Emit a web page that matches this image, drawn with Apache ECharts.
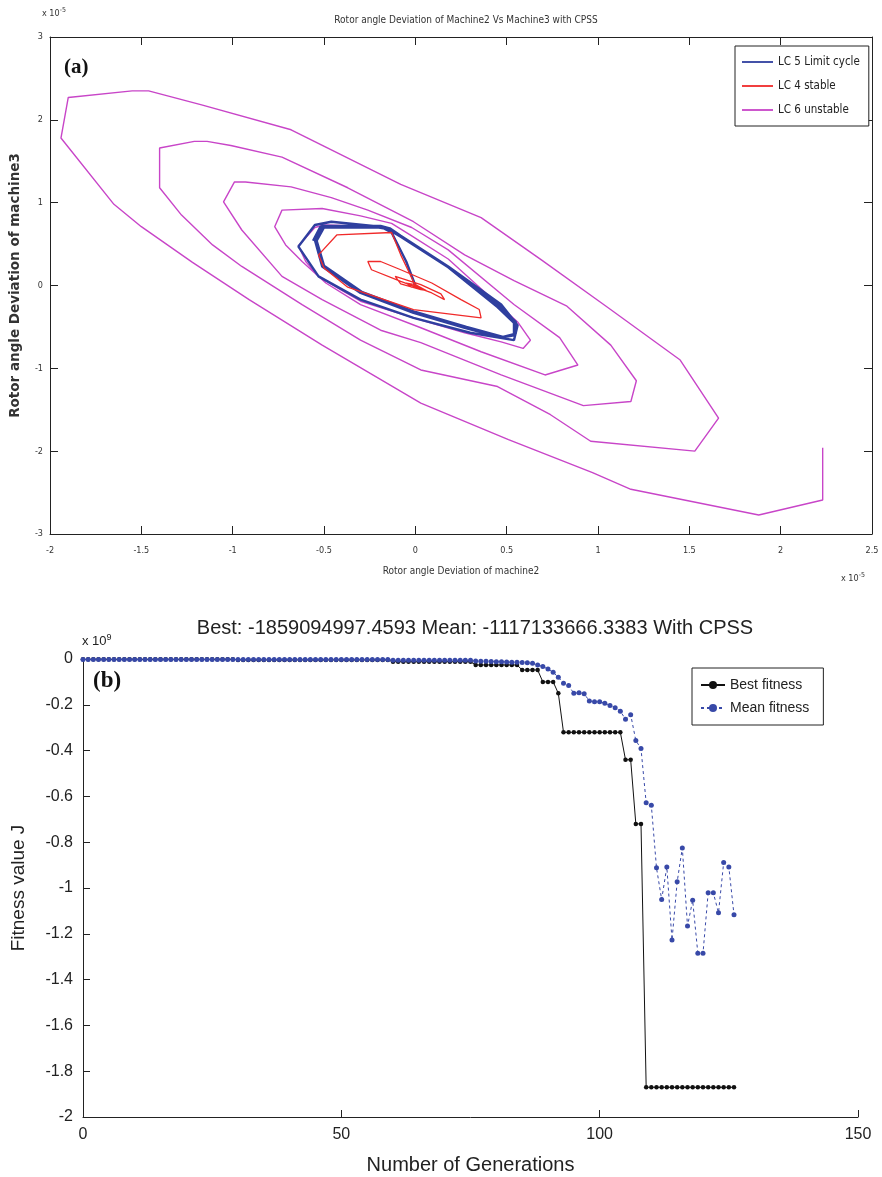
<!DOCTYPE html>
<html><head><meta charset="utf-8">
<script src="https://cdn.jsdelivr.net/npm/echarts@6/dist/echarts.min.js"></script>
<style>html,body{margin:0;padding:0;background:#fff}#c{width:882px;height:1177px}</style>
</head><body><div id="c"></div>
<script>
// ---------- Panel (a): phase-plane trajectories (units of 1e-5) ----------
const lc6Unstable = [
 [0,0],[-0.05,0.29],[-0.13,0.64],[-0.19,0.71],[-0.50,0.73],[-0.55,0.70],[-0.64,0.48],[-0.60,0.29],[-0.53,0.11],
 [-0.41,-0.05],[-0.30,-0.19],[-0.01,-0.39],[0.27,-0.57],[0.47,-0.68],[0.59,-0.76],[0.63,-0.66],
 [0.56,-0.44],[0.39,-0.10],[0.18,0.32],[-0.02,0.60],[-0.13,0.75],[-0.30,0.84],[-0.51,0.93],[-0.73,0.91],[-0.77,0.71],
 [-0.71,0.49],[-0.62,0.29],[-0.49,0.03],[-0.30,-0.23],[0.03,-0.51],[0.36,-0.80],[0.71,-1.08],[0.89,-0.96],
 [0.79,-0.63],[0.54,-0.23],[0.18,0.43],[-0.02,0.70],[-0.26,0.91],[-0.46,1.06],[-0.68,1.19],[-0.93,1.25],[-0.99,1.25],[-1.05,1.01],
 [-0.95,0.67],[-0.73,0.11],[-0.51,-0.17],[-0.19,-0.54],[0.03,-0.69],[0.47,-1.08],[0.92,-1.45],[1.18,-1.40],[1.21,-1.15],
 [1.07,-0.72],[0.83,-0.25],[0.54,0.06],[0.27,0.37],[-0.01,0.77],[-0.37,1.18],[-0.73,1.55],[-1.01,1.69],[-1.14,1.74],[-1.21,1.74],[-1.40,1.66],[-1.40,1.18],
 [-1.28,0.85],[-1.11,0.49],[-0.95,0.23],[-0.62,-0.23],[-0.30,-0.66],[0.03,-1.02],[0.45,-1.22],[0.74,-1.56],[0.96,-1.88],[1.53,-2.00],[1.66,-1.60],
 [1.45,-0.90],[1.05,-0.26],[0.69,0.31],[0.36,0.82],[-0.08,1.22],[-0.68,1.88],[-1.17,2.18],[-1.46,2.35],[-1.55,2.35],[-1.90,2.27],[-1.94,1.78],
 [-1.65,0.98],[-1.50,0.71],[-1.22,0.28],[-0.91,-0.17],[-0.51,-0.72],[0.03,-1.42],[0.51,-1.86],[0.97,-2.26],[1.18,-2.46],[1.88,-2.77],[2.23,-2.59],[2.23,-1.96]
];
const lc5LimitCycle = [
 [0,0],[-0.05,0.29],[-0.13,0.64],[-0.19,0.71],[-0.46,0.77],[-0.55,0.73],[-0.64,0.47],[-0.53,0.11],[-0.30,-0.17],
 [-0.01,-0.39],[0.30,-0.57],[0.54,-0.66],[0.56,-0.48],[0.47,-0.23],[0.18,0.23],[-0.08,0.60],[-0.14,0.69],
 [-0.19,0.72],[-0.51,0.72],[-0.55,0.55],[-0.51,0.23],[-0.30,-0.09],[-0.01,-0.33],[0.27,-0.51],[0.47,-0.63],
 [0.54,-0.60],[0.54,-0.45],[0.45,-0.26],[0.18,0.22],[-0.08,0.59],[-0.15,0.68],[-0.20,0.70],[-0.50,0.70],
 [-0.54,0.54],[-0.50,0.24],[-0.29,-0.08],[0.00,-0.32],[0.28,-0.50],[0.48,-0.62],[0.55,-0.58],[0.55,-0.44],
 [0.46,-0.25],[0.19,0.21],[-0.07,0.58],[-0.14,0.69],[-0.19,0.71],[-0.52,0.71],[-0.56,0.54]
];
const lc4Stable = [
 [0,0],[-0.08,0.37],[-0.13,0.64],[-0.43,0.61],[-0.53,0.37],[-0.50,0.21],[-0.37,-0.02],[-0.01,-0.29],[0.36,-0.39],
 [0.35,-0.29],[0.25,-0.17],[0.09,0.03],[-0.08,0.19],[-0.19,0.29],[-0.26,0.29],[-0.24,0.19],[-0.08,0.05],
 [0.09,-0.09],[0.16,-0.17],[0.14,-0.10],[0.03,0.01],[-0.08,0.09],[-0.11,0.11],[-0.08,0.02],[0.03,-0.05],
 [0.06,-0.06],[0.00,0.01],[-0.05,0.03],[-0.02,-0.02],[0.02,-0.03],[-0.01,0.01],[0,0]
];
const topXTicks = {min:-2, max:2.5, step:0.5};
const topYTicks = {min:-3, max:3, step:1};

// ---------- Panel (b): GA fitness (units of 1e9) ----------
const firstGeneration = 0;
const bestFitness = [
 -0.001,-0.001,-0.001,-0.001,-0.001,-0.001,-0.001,-0.001,-0.001,-0.001,
 -0.001,-0.001,-0.001,-0.001,-0.001,-0.001,-0.001,-0.001,-0.001,-0.001,
 -0.001,-0.001,-0.001,-0.001,-0.001,-0.001,-0.001,-0.001,-0.001,-0.001,
 -0.004,-0.004,-0.004,-0.004,-0.004,-0.004,-0.004,-0.004,-0.004,-0.004,
 -0.004,-0.004,-0.004,-0.004,-0.004,-0.004,-0.004,-0.004,-0.004,-0.004,
 -0.004,-0.004,-0.004,-0.004,-0.004,-0.004,-0.004,-0.004,-0.004,-0.004,
 -0.012,-0.012,-0.012,-0.012,-0.012,-0.012,-0.012,-0.012,-0.012,-0.012,
 -0.012,-0.012,-0.012,-0.012,-0.012,-0.012,
 -0.026,-0.026,-0.026,-0.026,-0.026,-0.026,-0.026,-0.026,-0.026,
 -0.048,-0.048,-0.048,-0.048,
 -0.100,-0.100,-0.100,
 -0.150,
 -0.320,-0.320,-0.320,-0.320,-0.320,-0.320,-0.320,-0.320,-0.320,-0.320,-0.320,-0.320,
 -0.440,-0.440,
 -0.720,-0.720,
 -1.870,-1.870,-1.870,-1.870,-1.870,-1.870,-1.870,-1.870,-1.870,
 -1.870,-1.870,-1.870,-1.870,-1.870,-1.870,-1.870,-1.870,-1.870
];
const meanFitness = [
 -0.002,-0.002,-0.002,-0.002,-0.002,-0.002,-0.002,-0.002,-0.002,-0.002,
 -0.002,-0.002,-0.002,-0.002,-0.002,-0.002,-0.002,-0.002,-0.002,-0.002,
 -0.002,-0.002,-0.002,-0.002,-0.002,-0.002,-0.002,-0.002,-0.002,-0.002,
 -0.002,-0.002,-0.002,-0.002,-0.002,-0.002,-0.002,-0.002,-0.002,-0.002,
 -0.002,-0.002,-0.002,-0.002,-0.002,-0.002,-0.002,-0.002,-0.002,-0.002,
 -0.002,-0.002,-0.002,-0.002,-0.002,-0.002,-0.002,-0.002,-0.002,-0.002,
 -0.006,-0.006,-0.006,-0.006,-0.006,-0.006,-0.006,-0.006,-0.006,-0.006,
 -0.006,-0.006,-0.006,-0.006,-0.006,-0.006,
 -0.009,-0.010,-0.010,-0.011,-0.012,-0.012,-0.013,-0.014,-0.014,-0.015,
 -0.016,-0.019,-0.026,-0.033,-0.044,-0.058,-0.080,-0.106,-0.116,-0.150,
 -0.147,-0.152,-0.183,-0.187,-0.187,-0.193,-0.203,-0.213,-0.228,-0.263,
 -0.243,-0.356,-0.391,-0.628,-0.639,-0.912,-1.050,-0.908,-1.227,-0.973,
 -0.825,-1.166,-1.054,-1.285,-1.285,-1.021,-1.021,-1.108,-0.889,-0.908,
 -1.117
];
const botXTicks = {min:0, max:150, step:50};
const botYTicks = {min:-2, max:0, step:0.2};
const titleA = 'Rotor angle Deviation of Machine2 Vs Machine3 with CPSS';
const titleB = 'Best: -1859094997.4593 Mean: -1117133666.3383 With CPSS';

const narrow = "'Liberation Sans Narrow','DejaVu Sans Condensed','Liberation Sans',sans-serif";
const sans = "'Liberation Sans',Arial,sans-serif";
const serif = "'Liberation Serif','DejaVu Serif',serif";

const bestPts = bestFitness.map((v,i)=>[firstGeneration+i, v]);
const meanPts = meanFitness.map((v,i)=>[firstGeneration+i, v]);

const axTop = (extra) => Object.assign({
  axisLine:{show:true, onZero:false, lineStyle:{color:'#222', width:1}},
  axisTick:{show:true, inside:true, length:8, lineStyle:{color:'#222'}},
  splitLine:{show:false},
  axisLabel:{fontFamily:narrow, fontSize:9, color:'#333'}
}, extra);

const chart = echarts.init(document.getElementById('c'), null, {renderer:'canvas'});
chart.setOption({
  animation:false,
  backgroundColor:'#fff',
  title:[
    {text:titleA, left:461, top:10, textAlign:'center', textStyle:{fontFamily:narrow, fontSize:10, fontWeight:'normal', color:'#333'}},
    {text:titleB, left:470, top:613, textAlign:'center', textStyle:{fontFamily:sans, fontSize:20, fontWeight:'normal', color:'#222'}}
  ],
  grid:[
    {left:47, right:10, top:37, height:497},
    {left:83, width:775, top:659, height:458}
  ],
  legend:[
    {orient:'vertical', left:735, top:46, data:['LC 5 Limit cycle','LC 4 stable','LC 6 unstable'],
     icon:'path://M0,0 L31,0 L31,1.8 L0,1.8 Z',
     itemWidth:31, itemHeight:10, itemGap:12, padding:[10,9,10,7], borderColor:'#222', borderWidth:1,
     textStyle:{fontFamily:narrow, fontSize:11.5, color:'#222'}, backgroundColor:'#fff'},
    {orient:'vertical', left:692, top:668, data:['Best fitness','Mean fitness'],
     itemWidth:24, itemHeight:10, itemGap:9, padding:[10,14,10,8], borderColor:'#222', borderWidth:1,
     itemStyle:{borderWidth:0},
     textStyle:{fontFamily:sans, fontSize:14, color:'#222'}, backgroundColor:'#fff'}
  ],
  xAxis:[
    axTop({type:'value', gridIndex:0, min:topXTicks.min, max:topXTicks.max, interval:topXTicks.step,
      axisLabel:{fontFamily:narrow, fontSize:9, color:'#333', margin:12},
      name:'Rotor angle Deviation of machine2', nameLocation:'middle', nameGap:32,
      nameTextStyle:{fontFamily:narrow, fontSize:10, color:'#333'}}),
    axTop({type:'value', gridIndex:0, position:'top', min:topXTicks.min, max:topXTicks.max, interval:topXTicks.step,
      axisLabel:{show:false}}),
    {type:'value', gridIndex:1, min:botXTicks.min, max:botXTicks.max, interval:botXTicks.step,
      axisLine:{show:true, onZero:false, lineStyle:{color:'#222'}},
      axisTick:{show:true, inside:true, length:7, lineStyle:{color:'#222'}},
      splitLine:{show:false},
      axisLabel:{fontFamily:sans, fontSize:16, color:'#222', margin:10},
      name:'Number of Generations', nameLocation:'middle', nameGap:38,
      nameTextStyle:{fontFamily:sans, fontSize:20, color:'#222'}}
  ],
  yAxis:[
    axTop({type:'value', gridIndex:0, min:topYTicks.min, max:topYTicks.max, interval:topYTicks.step,
      axisLabel:{fontFamily:narrow, fontSize:9, color:'#333', margin:7},
      name:'Rotor angle Deviation of machine3', nameLocation:'middle', nameGap:28,
      nameTextStyle:{fontFamily:"'DejaVu Sans',sans-serif", fontSize:13.5, fontWeight:'bold', color:'#333'}}),
    axTop({type:'value', gridIndex:0, position:'right', min:topYTicks.min, max:topYTicks.max, interval:topYTicks.step,
      axisLabel:{show:false}}),
    {type:'value', gridIndex:1, min:botYTicks.min, max:botYTicks.max, interval:botYTicks.step,
      axisLine:{show:true, onZero:false, lineStyle:{color:'#222'}},
      axisTick:{show:true, inside:true, length:7, lineStyle:{color:'#222'}},
      splitLine:{show:false},
      axisLabel:{fontFamily:sans, fontSize:16, color:'#222', margin:10},
      name:'Fitness value J', nameLocation:'middle', nameGap:55,
      nameTextStyle:{fontFamily:sans, fontSize:19, color:'#222'}}
  ],
  series:[
    {name:'LC 6 unstable', type:'line', xAxisIndex:0, yAxisIndex:0, data:lc6Unstable, symbol:'none',
      lineStyle:{color:'#c845c8', width:1.4}, itemStyle:{color:'#c845c8'}, z:2},
    {name:'LC 5 Limit cycle', type:'line', xAxisIndex:0, yAxisIndex:0, data:lc5LimitCycle, symbol:'none',
      lineStyle:{color:'#2f3f9f', width:2.4}, itemStyle:{color:'#2f3f9f'}, z:3},
    {name:'LC 4 stable', type:'line', xAxisIndex:0, yAxisIndex:0, data:lc4Stable, symbol:'none',
      lineStyle:{color:'#f02a2a', width:1.3}, itemStyle:{color:'#f02a2a'}, z:4},
    {name:'Best fitness', type:'line', xAxisIndex:2, yAxisIndex:2, data:bestPts, symbol:'circle', symbolSize:4.5,
      showAllSymbol:true, lineStyle:{color:'#111', width:1}, itemStyle:{color:'#111'}, z:3},
    {name:'Mean fitness', type:'line', xAxisIndex:2, yAxisIndex:2, data:meanPts, symbol:'circle', symbolSize:5,
      showAllSymbol:true, lineStyle:{color:'#3849a8', width:1, type:[3,3]}, itemStyle:{color:'#3849a8'}, z:4}
  ],
  graphic:[
    {type:'text', left:64, top:57, style:{text:'(a)', font:"bold 21px "+serif, fill:'#111'}},
    {type:'text', left:93, top:670, style:{text:'(b)', font:"bold 23px "+serif, fill:'#111'}},
    {type:'text', left:42, top:7, style:{rich:{b:{fontFamily:narrow,fontSize:9,fill:'#333'}, s:{fontFamily:narrow,fontSize:7,fill:'#333',padding:[0,0,6,0]}},
      text:'{b|x 10}{s|-5}'}},
    {type:'text', left:841, top:572, style:{rich:{b:{fontFamily:narrow,fontSize:9,fill:'#333'}, s:{fontFamily:narrow,fontSize:7,fill:'#333',padding:[0,0,6,0]}},
      text:'{b|x 10}{s|-5}'}},
    {type:'text', left:82, top:633, style:{rich:{b:{fontFamily:sans,fontSize:13,fill:'#222'}, s:{fontFamily:sans,fontSize:9,fill:'#222',padding:[0,0,8,0]}},
      text:'{b|x 10}{s|9}'}}
  ]
});
</script></body></html>
